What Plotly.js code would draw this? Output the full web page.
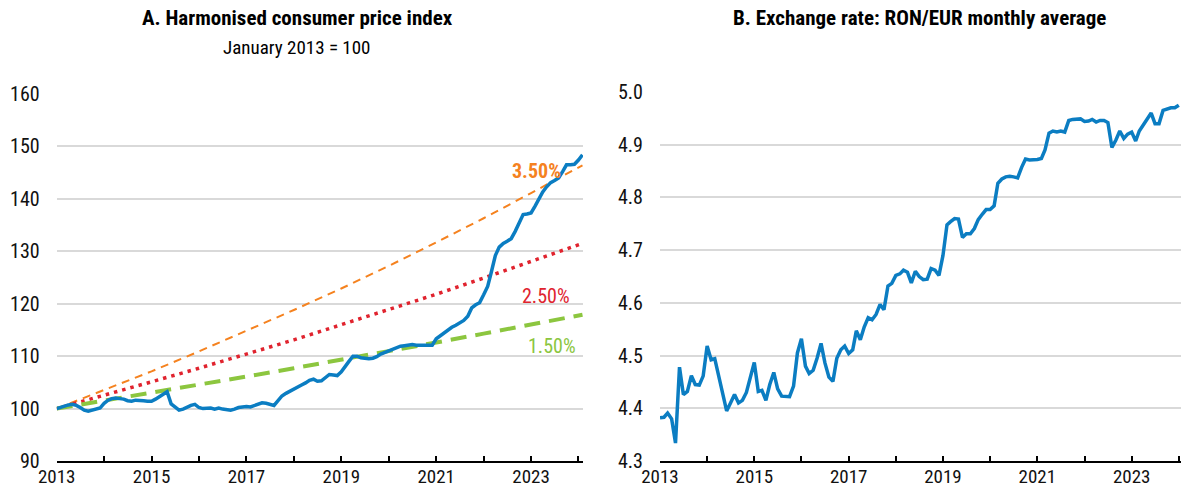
<!DOCTYPE html>
<html>
<head>
<meta charset="utf-8">
<script src="https://cdn.plot.ly/plotly-3.0.1.min.js"></script>
<style>html,body{margin:0;padding:0;background:#fff;}#chart{width:1182px;height:490px;}</style>
</head>
<body>
<div id="chart"></div>
<script>
// ---- Data ----
const startYear = 2013;

// Panel A: HICP, January 2013 = 100 (monthly, Jan 2013 - Feb 2024)
const hicp = [
  100.0, 100.3, 100.5, 100.7, 100.8, 100.6, 100.2, 99.7, 99.5, 99.7, 100.0, 100.1,
  101.0, 101.6, 101.9, 102.0, 101.9, 101.8, 101.5, 101.4, 101.6, 101.6, 101.5, 101.4,
  101.4, 101.8, 102.3, 102.8, 103.2, 100.9, 100.2, 99.7, 99.9, 100.3, 100.6, 100.8,
  100.2, 100.0, 100.0, 100.1, 99.9, 100.1, 99.9, 99.8, 99.7, 99.9, 100.2, 100.3,
  100.4, 100.3, 100.5, 100.8, 101.1, 101.0, 100.8, 100.6, 101.5, 102.4, 102.9, 103.3,
  103.9, 104.2, 104.5, 104.9, 105.4, 105.6, 105.2, 105.3, 105.9, 106.5, 106.4, 106.3,
  107.0, 108.2, 109.0, 110.0, 110.0, 109.7, 109.6, 109.5, 109.6, 109.9, 110.4, 110.7,
  110.9, 111.2, 111.5, 111.9, 112.0, 112.1, 112.2, 112.1, 112.1, 112.0, 112.0, 112.1,
  113.3, 113.9, 114.4, 115.0, 115.5, 115.9, 116.3, 116.8, 117.6, 119.2, 119.8, 120.2,
  121.7, 123.3, 126.0, 129.2, 130.8, 131.5, 131.9, 132.4, 133.8, 135.4, 137.0, 137.1,
  137.3, 138.6, 139.9, 141.3, 142.3, 143.1, 143.5, 144.0, 145.2, 146.5, 146.5, 146.6,
  147.4, 148.4
];

// Reference paths (values read at each January, plus the last month)
const refDates = ['2013-01-01','2014-01-01','2015-01-01','2016-01-01','2017-01-01','2018-01-01',
  '2019-01-01','2020-01-01','2021-01-01','2022-01-01','2023-01-01','2024-01-01','2024-02-01'];
const path35 = [100, 103.5, 107.1, 110.9, 114.8, 118.8, 122.9, 127.2, 131.7, 136.3, 141.1, 146.0, 146.4];
const path25 = [100, 102.5, 105.1, 107.7, 110.4, 113.1, 116.0, 118.9, 121.8, 124.9, 128.0, 131.2, 131.5];
const path15 = [100, 101.5, 103.0, 104.6, 106.1, 107.7, 109.3, 111.0, 112.6, 114.3, 116.1, 117.8, 117.9];
const pathLabels = ['3.50%', '2.50%', '1.50%'];

// Panel B: RON/EUR monthly average (Jan 2013 - Jan 2024)
const ronEur = [
  4.382, 4.383, 4.391, 4.380, 4.334, 4.478, 4.426, 4.432, 4.462, 4.445, 4.444, 4.461,
  4.518, 4.492, 4.494, 4.462, 4.430, 4.395, 4.410, 4.426, 4.410, 4.415, 4.430, 4.460,
  4.487, 4.432, 4.434, 4.415, 4.445, 4.468, 4.437, 4.423, 4.422, 4.422, 4.442, 4.505,
  4.532, 4.480, 4.466, 4.472, 4.495, 4.523, 4.486, 4.459, 4.451, 4.495, 4.511, 4.518,
  4.504, 4.511, 4.547, 4.530, 4.554, 4.572, 4.568, 4.578, 4.597, 4.587, 4.632, 4.637,
  4.652, 4.655, 4.662, 4.658, 4.638, 4.660, 4.650, 4.644, 4.645, 4.665, 4.662, 4.652,
  4.690, 4.748, 4.754, 4.760, 4.759, 4.724, 4.731, 4.731, 4.741, 4.758, 4.768, 4.777,
  4.777, 4.784, 4.827, 4.835, 4.839, 4.840, 4.839, 4.837, 4.857, 4.873, 4.871, 4.871,
  4.872, 4.874, 4.890, 4.922, 4.926, 4.924, 4.926, 4.924, 4.946, 4.948, 4.949, 4.949,
  4.944, 4.945, 4.948, 4.943, 4.946, 4.946, 4.942, 4.895, 4.909, 4.926, 4.912, 4.920,
  4.924, 4.907, 4.926, 4.937, 4.948, 4.960, 4.940, 4.940, 4.965, 4.968, 4.970, 4.970,
  4.975
];

const yearTicks = ['2013','2014','2015','2016','2017','2018','2019','2020','2021','2022','2023','2024'];
const yearTickText = ['2013','','2015','','2017','','2019','','2021','','2023',''];
const leftYTicks = [90, 100, 110, 120, 130, 140, 150, 160];
const rightYTicks = [4.3, 4.4, 4.5, 4.6, 4.7, 4.8, 4.9, 5.0];

function monthDates(n) {
  const out = [];
  for (let i = 0; i < n; i++) {
    const y = startYear + Math.floor(i / 12);
    const m = (i % 12) + 1;
    out.push(y + '-' + (m < 10 ? '0' : '') + m + '-01');
  }
  return out;
}

// ---- Styling ----
const W = 1182, H = 490;
const FONT = "'Roboto Condensed', 'DejaVu Sans Condensed', 'Liberation Sans', Arial, sans-serif";
const BLUE = '#0b7dc2', ORANGE = '#f5821f', RED = '#e0232e', GREEN = '#8cc63f';
const px = x => x / W;
const py = y => 1 - y / H;

const traces = [
  { x: refDates, y: path35, xaxis: 'x', yaxis: 'y', mode: 'lines', hoverinfo: 'skip',
    line: { color: ORANGE, width: 2, dash: '8px,6px' } },
  { x: refDates, y: path25, xaxis: 'x', yaxis: 'y', mode: 'lines', hoverinfo: 'skip',
    line: { color: RED, width: 3.5, dash: '3.5px,5px' } },
  { x: refDates, y: path15, xaxis: 'x', yaxis: 'y', mode: 'lines', hoverinfo: 'skip',
    line: { color: GREEN, width: 4, dash: '16px,9px' } },
  { x: monthDates(hicp.length), y: hicp, xaxis: 'x', yaxis: 'y', mode: 'lines',
    line: { color: BLUE, width: 3.5 } },
  { x: monthDates(ronEur.length), y: ronEur, xaxis: 'x2', yaxis: 'y2', mode: 'lines',
    line: { color: BLUE, width: 3.5 } }
];

const xCommon = {
  type: 'date', tickvals: yearTicks.map(y => y + '-01-01'), ticktext: yearTickText,
  ticks: 'inside', ticklen: 5, tickwidth: 2, tickcolor: '#000', ticklabelstandoff: -3,
  showline: true, linecolor: '#000', linewidth: 2, showgrid: false, zeroline: false,
  tickfont: { family: FONT, size: 19, color: '#111' }, fixedrange: true
};
const yCommon = {
  showgrid: true, gridcolor: '#d9d9d9', gridwidth: 2, zeroline: false, showline: false,
  ticks: '', ticklabelstandoff: 16,
  tickfont: { family: FONT, size: 20, color: '#111' }, fixedrange: true
};

const layout = {
  width: W, height: H, margin: { l: 0, r: 0, t: 0, b: 0 },
  paper_bgcolor: '#fff', plot_bgcolor: '#fff', showlegend: false,
  font: { family: FONT, color: '#111' },
  xaxis: Object.assign({}, xCommon, { domain: [px(56.7), px(583)], range: ['2013-01-01', '2024-02-05'], anchor: 'y' }),
  yaxis: Object.assign({}, yCommon, { domain: [py(461), py(94)], range: [90, 160], tickvals: leftYTicks, anchor: 'x' }),
  xaxis2: Object.assign({}, xCommon, { domain: [px(660), px(1181)], range: ['2013-01-01', '2024-01-18'], anchor: 'y2' }),
  yaxis2: Object.assign({}, yCommon, { domain: [py(461), py(92)], range: [4.3, 5.0], tickvals: rightYTicks,
    tickformat: '.1f', anchor: 'x2' }),
  annotations: [
    { text: '<b>A. Harmonised consumer price index</b>', xref: 'paper', yref: 'paper',
      x: px(297), y: py(18), xanchor: 'center', yanchor: 'middle', showarrow: false,
      font: { family: FONT, size: 21, color: '#000' } },
    { text: 'January 2013 = 100', xref: 'paper', yref: 'paper',
      x: px(296), y: py(47), xanchor: 'center', yanchor: 'middle', showarrow: false,
      font: { family: FONT, size: 19, color: '#000' } },
    { text: '<b>B. Exchange rate: RON/EUR monthly average</b>', xref: 'paper', yref: 'paper',
      x: px(919), y: py(18), xanchor: 'center', yanchor: 'middle', showarrow: false,
      font: { family: FONT, size: 21, color: '#000' } },
    { text: '<b>' + pathLabels[0] + '</b>', xref: 'paper', yref: 'paper',
      x: px(536), y: py(171), xanchor: 'center', yanchor: 'middle', showarrow: false,
      font: { family: FONT, size: 20, color: ORANGE } },
    { text: pathLabels[1], xref: 'paper', yref: 'paper',
      x: px(546), y: py(296), xanchor: 'center', yanchor: 'middle', showarrow: false,
      font: { family: FONT, size: 20, color: RED } },
    { text: pathLabels[2], xref: 'paper', yref: 'paper',
      x: px(552), y: py(346), xanchor: 'center', yanchor: 'middle', showarrow: false,
      font: { family: FONT, size: 20, color: GREEN } }
  ]
};

Plotly.newPlot('chart', traces, layout, { displayModeBar: false, staticPlot: true });
</script>
</body>
</html>
